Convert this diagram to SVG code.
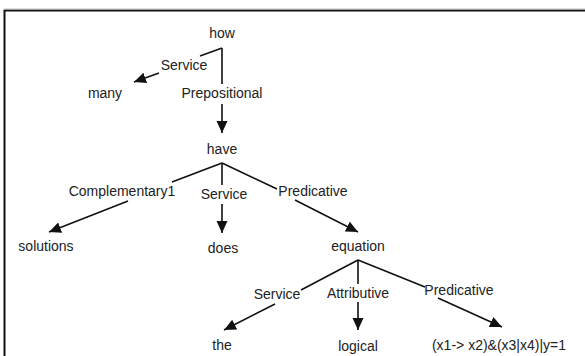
<svg xmlns="http://www.w3.org/2000/svg" width="585" height="356" viewBox="0 0 585 356">
  <style>
    .frame { fill: none; stroke: #111; stroke-width: 2; }
    .edge { fill: none; stroke: #111; stroke-width: 1.6; }
    .word { font-family: "Liberation Sans", Arial, sans-serif; font-size: 14px; fill: #222; text-anchor: middle; }
    .rel { font-family: "Liberation Sans", Arial, sans-serif; font-size: 14px; fill: #222; text-anchor: middle; }
  </style>
  <defs>
    <marker id="arrow" markerUnits="userSpaceOnUse" markerWidth="13" markerHeight="12" refX="12" refY="5.5" orient="auto">
      <path d="M0,0 L12,5.5 L0,11 z" fill="#111"/>
    </marker>
  </defs>

  <rect width="585" height="356" fill="#ffffff"/>
  <!-- page frame, open at right and bottom -->
  <path class="frame" d="M4.5,360 L4.5,10.5 L590,10.5"/>
  <line x1="4" y1="9" x2="590" y2="9" stroke="#bbb" stroke-width="1"/>

  <g id="connectors">
    <!-- how -> many (Service) -->
    <path class="edge" d="M222,48 L200,56"/>
    <path class="edge" d="M159,73 L134,82" marker-end="url(#arrow)"/>
    <!-- how -> have (Prepositional) -->
    <path class="edge" d="M222,48 L222,84"/>
    <path class="edge" d="M222,104 L222,133" marker-end="url(#arrow)"/>
    <!-- have -> solutions (Complementary1) -->
    <path class="edge" d="M222,163 L172,182"/>
    <path class="edge" d="M128,201 L49,232" marker-end="url(#arrow)"/>
    <!-- have -> does (Service) -->
    <path class="edge" d="M222,163 L222,185"/>
    <path class="edge" d="M222,204 L222,233" marker-end="url(#arrow)"/>
    <!-- have -> equation (Predicative) -->
    <path class="edge" d="M222,163 L277,189"/>
    <path class="edge" d="M295,200 L358,232" marker-end="url(#arrow)"/>
    <!-- equation -> the (Service) -->
    <path class="edge" d="M358,260 L301,290"/>
    <path class="edge" d="M275,304 L224,330" marker-end="url(#arrow)"/>
    <!-- equation -> logical (Attributive) -->
    <path class="edge" d="M358,260 L358,284"/>
    <path class="edge" d="M358,302 L358,330" marker-end="url(#arrow)"/>
    <!-- equation -> formula (Predicative) -->
    <path class="edge" d="M358,260 L425,287"/>
    <path class="edge" d="M438,298 L502,327" marker-end="url(#arrow)"/>
  </g>

  <g id="labels">
    <text class="rel" x="184" y="70">Service</text>
    <text class="rel" x="222" y="98">Prepositional</text>
    <text class="rel" x="122" y="196">Complementary1</text>
    <text class="rel" x="224" y="199">Service</text>
    <text class="rel" x="313" y="196">Predicative</text>
    <text class="rel" x="277" y="299">Service</text>
    <text class="rel" x="358" y="298">Attributive</text>
    <text class="rel" x="459" y="295">Predicative</text>
  </g>

  <g id="node-how"><text class="word" x="222" y="38">how</text></g>
  <g id="node-many"><text class="word" x="105" y="98">many</text></g>
  <g id="node-have"><text class="word" x="222" y="154">have</text></g>
  <g id="node-solutions"><text class="word" x="46" y="251">solutions</text></g>
  <g id="node-does"><text class="word" x="223" y="253">does</text></g>
  <g id="node-equation"><text class="word" x="358" y="251">equation</text></g>
  <g id="node-the"><text class="word" x="222" y="350">the</text></g>
  <g id="node-logical"><text class="word" x="358" y="351">logical</text></g>
  <g id="node-formula"><text class="word" x="499" y="350">(x1-&gt; x2)&amp;(x3|x4)|y=1</text></g>
</svg>
